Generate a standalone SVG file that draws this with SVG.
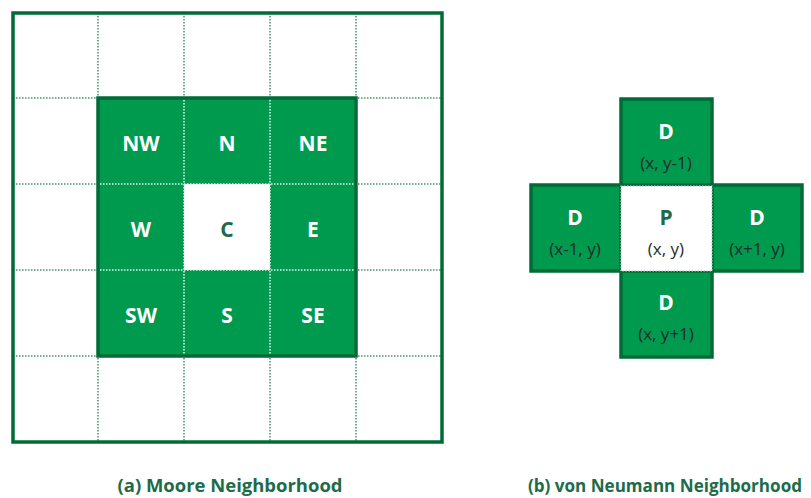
<svg xmlns="http://www.w3.org/2000/svg" width="811" height="498" viewBox="0 0 811 498">
<style>
.bg{fill:#ffffff}
.frame{fill:none;stroke:#006b36;stroke-width:3.5}
.cell{fill:#009a4e;stroke:#006b36;stroke-width:3.5}
.grid{stroke:#4a8f6c;stroke-width:1.5;stroke-dasharray:1.5 1.5;fill:none}
.gridw{stroke:#e6f3ec;stroke-width:1.5;stroke-dasharray:1.5 1.5;fill:none}
.white{fill:#ffffff}
.lab{font-family:"Open Sans","Liberation Sans",sans-serif;font-weight:700;font-size:21px;fill:#ffffff;text-anchor:middle;dominant-baseline:central}
.labc{font-family:"Open Sans","Liberation Sans",sans-serif;font-weight:700;font-size:21px;fill:#1e6b4a;text-anchor:middle;dominant-baseline:central}
.crd{font-family:"Open Sans","Liberation Sans",sans-serif;font-size:17px;fill:#1f2b2b;text-anchor:middle;dominant-baseline:central}
.cap{font-family:"Open Sans","Liberation Sans",sans-serif;font-weight:700;font-size:17px;fill:#1e6b4a;text-anchor:middle}
</style>
<rect class="bg" x="0" y="0" width="811" height="498"/>
<g id="moore">
  <g id="moore-grid">
    <path class="grid" d="M98 13V442M184 13V442M270 13V442M356 13V442M13 98H442M13 184H442M13 270H442M13 356H442"/>
  </g>
  <g id="moore-block">
    <rect class="cell" x="98" y="98" width="258" height="258"/>
    <rect class="white" x="184" y="184" width="86" height="86"/>
    <path class="gridw" d="M184 100V354M270 100V354M100 184H354M100 270H354"/>
  </g>
  <rect class="frame" x="13" y="13" width="429" height="429"/>
  <g id="NW"><text class="lab" x="141" y="143">NW</text></g>
  <g id="N"><text class="lab" x="227" y="143">N</text></g>
  <g id="NE"><text class="lab" x="313" y="143">NE</text></g>
  <g id="W"><text class="lab" x="141" y="229">W</text></g>
  <g id="C"><text class="labc" x="227" y="229">C</text></g>
  <g id="E"><text class="lab" x="313" y="229">E</text></g>
  <g id="SW"><text class="lab" x="141" y="315">SW</text></g>
  <g id="S"><text class="lab" x="227" y="315">S</text></g>
  <g id="SE"><text class="lab" x="313" y="315">SE</text></g>
</g>
<g id="vonneumann">
  <g id="D-top"><rect class="cell" x="621" y="99" width="91" height="86"/>
    <text class="lab" x="666" y="131">D</text><text class="crd" x="666" y="162">(x, y-1)</text></g>
  <g id="D-left"><rect class="cell" x="531" y="185" width="90" height="86"/>
    <text class="lab" x="575" y="217">D</text><text class="crd" x="575" y="248">(x-1, y)</text></g>
  <g id="D-right"><rect class="cell" x="712" y="185" width="90" height="86"/>
    <text class="lab" x="757" y="217">D</text><text class="crd" x="757" y="248">(x+1, y)</text></g>
  <g id="D-bottom"><rect class="cell" x="621" y="271" width="91" height="86"/>
    <text class="lab" x="666" y="302">D</text><text class="crd" x="666" y="333">(x, y+1)</text></g>
  <g id="P"><rect x="621" y="186" width="91" height="85" fill="#ffffff" stroke="#b8c8c0" stroke-width="1.2" stroke-dasharray="1.5 1.5"/>
    <text class="labc" x="666" y="217">P</text><text class="crd" x="666" y="248">(x, y)</text></g>
</g>
<g id="captions">
  <text class="cap" x="230" y="492" textLength="225" lengthAdjust="spacingAndGlyphs">(a) Moore Neighborhood</text>
  <text class="cap" x="665" y="492" textLength="274" lengthAdjust="spacingAndGlyphs">(b) von Neumann Neighborhood</text>
</g>
</svg>
